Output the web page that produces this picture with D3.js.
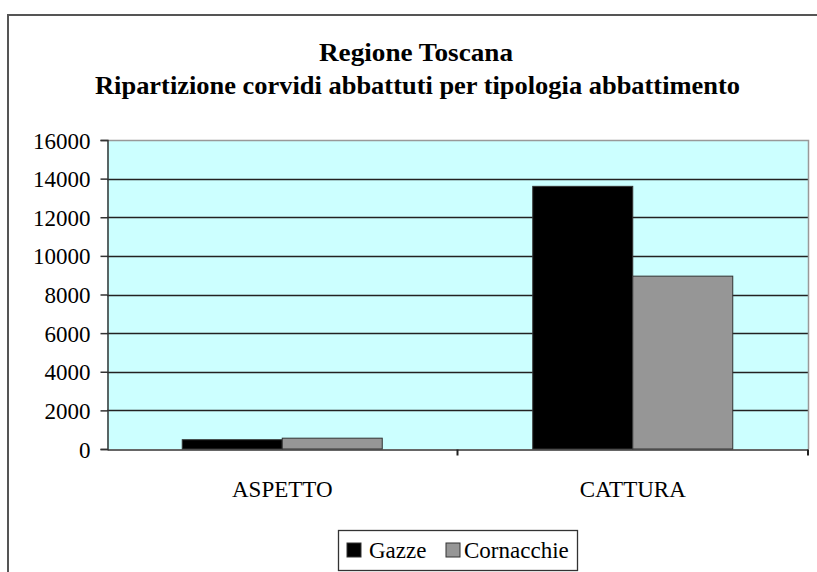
<!DOCTYPE html>
<html>
<head>
<meta charset="utf-8">
<script src="https://cdn.jsdelivr.net/npm/d3@7"></script>
<style>
html, body { margin: 0; padding: 0; background: #fff; }
svg { display: block; }
svg text { font-family: "Liberation Serif", "Times New Roman", Times, "DejaVu Serif", serif !important; fill: #000; }
</style>
</head>
<body>
<svg id="chart" width="817" height="572"></svg>
<script>
const categories = ["ASPETTO", "CATTURA"];
const seriesNames = ["Gazze", "Cornacchie"];
const gazze = [480, 13600];
const cornacchie = [560, 8950];
const yTicks = [0, 2000, 4000, 6000, 8000, 10000, 12000, 14000, 16000];
const titleLines = ["Regione Toscana", "Ripartizione corvidi abbattuti per tipologia abbattimento"];
const seriesColors = ["#000000", "#969696"];

const FONT = "'Liberation Serif', 'Times New Roman', Times, 'DejaVu Serif', serif";
const svg = d3.select("#chart");
const W = 817, H = 572;
const plot = { left: 107, right: 808, top: 140, bottom: 449 };

// outer frame
svg.append("path")
  .attr("d", `M8,${H} L8,15 L${W},15`)
  .attr("fill", "none").attr("stroke", "#555").attr("stroke-width", 2);

// titles
svg.append("text").attr("x", 416).attr("y", 61).attr("text-anchor", "middle")
  .attr("font-family", FONT).attr("font-size", 25).attr("font-weight", "bold")
  .attr("textLength", 194).attr("lengthAdjust", "spacingAndGlyphs")
  .text(titleLines[0]);
svg.append("text").attr("x", 417.5).attr("y", 94).attr("text-anchor", "middle")
  .attr("font-family", FONT).attr("font-size", 25).attr("font-weight", "bold")
  .attr("textLength", 645).attr("lengthAdjust", "spacingAndGlyphs")
  .text(titleLines[1]);

const x0 = d3.scaleBand().domain(categories).range([plot.left, plot.right]).paddingInner(0).paddingOuter(0);
const y = d3.scaleLinear().domain([0, 16000]).range([plot.bottom, plot.top]);

// plot background
svg.append("rect").attr("x", plot.left).attr("y", plot.top)
  .attr("width", plot.right - plot.left).attr("height", plot.bottom - plot.top)
  .attr("fill", "#ccffff");

// gridlines
svg.append("g").selectAll("line").data(yTicks.filter(t => t > 0 && t < 16000)).join("line")
  .attr("x1", plot.left).attr("x2", plot.right)
  .attr("y1", d => Math.round(y(d)) + 0.5).attr("y2", d => Math.round(y(d)) + 0.5)
  .attr("stroke", "#222").attr("stroke-width", 1.3);

// top and right border gray
svg.append("path")
  .attr("d", `M${plot.left},${plot.top + 0.5} L${plot.right + 0.5},${plot.top + 0.5} L${plot.right + 0.5},${plot.bottom}`)
  .attr("fill", "none").attr("stroke", "#999").attr("stroke-width", 1.5);

// bars
const barWidth = 100;
const data = categories.map((c, i) => ({ cat: c, vals: [gazze[i], cornacchie[i]] }));
const g = svg.append("g");
data.forEach(d => {
  const center = x0(d.cat) + x0.bandwidth() / 2;
  const xs = d3.scaleBand().domain(seriesNames).range([center - barWidth, center + barWidth]).padding(0);
  g.selectAll(null).data(d.vals.map((v, k) => ({ name: seriesNames[k], v, k }))).join("rect")
    .attr("x", s => xs(s.name)).attr("width", xs.bandwidth())
    .attr("y", s => y(s.v)).attr("height", s => y(0) - y(s.v))
    .attr("fill", s => seriesColors[s.k]).attr("stroke", "#333").attr("stroke-width", 1);
});

// y axis
const yAxis = d3.axisLeft(y).tickValues(yTicks).tickSize(7).tickPadding(10).tickFormat(d3.format("d"));
const ya = svg.append("g").attr("transform", `translate(${plot.left + 0.5},0)`).call(yAxis)
  .attr("font-family", FONT).attr("font-size", 23);
ya.select(".domain").attr("stroke", "#333").attr("stroke-width", 1.5);
ya.selectAll(".tick line").attr("stroke", "#333").attr("stroke-width", 1.5);
ya.selectAll(".tick text").attr("font-family", FONT).attr("font-size", 23).attr("fill", "#000").attr("dy", "0.35em");

// x axis
const xAxis = d3.axisBottom(x0).tickSize(0).tickPadding(31);
const xa = svg.append("g").attr("transform", `translate(0,${plot.bottom + 0.5})`).call(xAxis)
  .attr("font-family", FONT).attr("font-size", 23);
xa.select(".domain").attr("stroke", "#333").attr("stroke-width", 1.5);
xa.selectAll(".tick text").attr("font-family", FONT).attr("font-size", 23).attr("fill", "#000");
xa.selectAll(".sep").data(categories).join("line").attr("class", "sep")
  .attr("x1", d => x0(d) + x0.bandwidth()).attr("x2", d => x0(d) + x0.bandwidth())
  .attr("y1", 0).attr("y2", 6).attr("stroke", "#222").attr("stroke-width", 2);

// legend
const lg = svg.append("g");
lg.append("rect").attr("x", 338.5).attr("y", 530.5).attr("width", 239).attr("height", 40)
  .attr("fill", "#fff").attr("stroke", "#333").attr("stroke-width", 1.3);
const legendItems = [{ name: seriesNames[0], x: 347, tx: 369 }, { name: seriesNames[1], x: 446, tx: 464 }];
legendItems.forEach((it, k) => {
  lg.append("rect").attr("x", it.x).attr("y", 543).attr("width", 14).attr("height", 14)
    .attr("fill", seriesColors[k]).attr("stroke", "#333").attr("stroke-width", 1);
  lg.append("text").attr("x", it.tx).attr("y", 558).attr("font-family", FONT).attr("font-size", 23).text(it.name);
});
</script>
</body>
</html>
